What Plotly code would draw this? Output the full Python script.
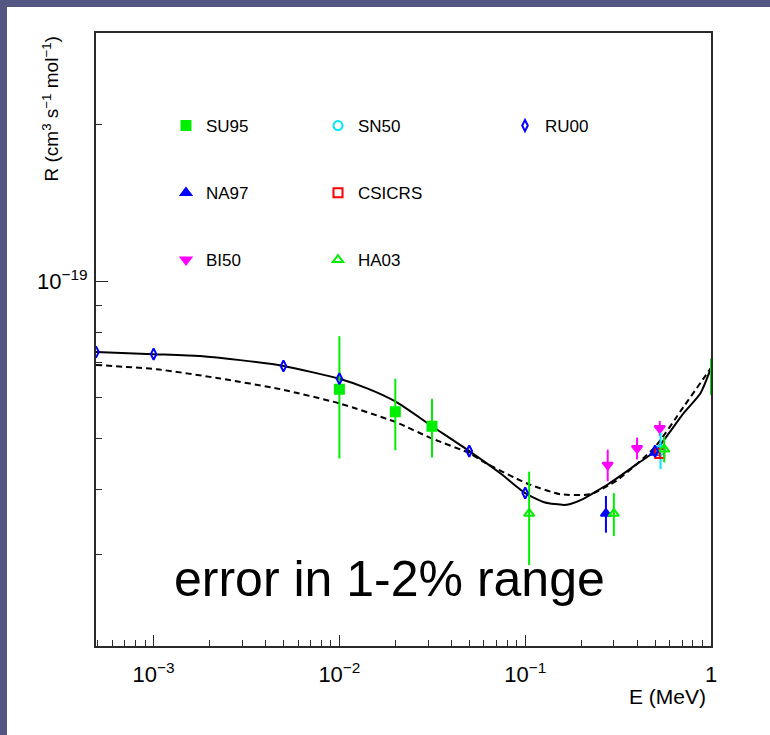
import plotly.graph_objects as go

# ---- data ----
E_solid = [4.9e-4, 1e-3, 1.78e-3, 2.92e-3, 5e-3, 0.01, 0.0141, 0.02, 0.0315, 0.05, 0.0734,
           0.1, 0.128, 0.161, 0.175, 0.2056, 0.2385, 0.2804, 0.325, 0.4, 0.5, 0.714, 0.878, 1.0]
R_solid = [7.33e-20, 7.26e-20, 7.20e-20, 7.07e-20, 6.89e-20, 6.51e-20, 6.24e-20, 5.89e-20, 5.28e-20,
           4.73e-20, 4.29e-20, 3.93e-20, 3.77e-20, 3.73e-20, 3.745e-20, 3.83e-20, 3.95e-20, 4.09e-20,
           4.24e-20, 4.47e-20, 4.73e-20, 5.60e-20, 6.11e-20, 6.83e-20]

E_dash = [4.9e-4, 1.04e-3, 2.28e-3, 4.79e-3, 0.01, 0.02, 0.0315, 0.0506, 0.0597, 0.1023,
          0.1546, 0.2243, 0.3123, 0.5, 0.711, 1.0]
R_dash = [6.92e-20, 6.79e-20, 6.52e-20, 6.22e-20, 5.84e-20, 5.38e-20, 5.00e-20, 4.68e-20, 4.51e-20,
          4.10e-20, 3.91e-20, 3.91e-20, 4.16e-20, 4.82e-20, 5.75e-20, 6.83e-20]

SU95_E = [0.01, 0.02, 0.0315, 1.0]
SU95_R = [6.22e-20, 5.63e-20, 5.28e-20, 6.59e-20]
SU95_err = [1.64e-20, 0.88e-20, 0.68e-20, 0.53e-20]

SN50_E = [0.535]
SN50_R = [4.75e-20]
SN50_err = [0.38e-20]

RU00_E = [4.9e-4, 1e-3, 5e-3, 0.01, 0.05, 0.1, 0.5]
RU00_R = [7.33e-20, 7.26e-20, 6.89e-20, 6.51e-20, 4.73e-20, 3.93e-20, 4.73e-20]

NA97_E = [0.272, 0.5]
NA97_R = [3.59e-20, 4.70e-20]
NA97_err = [0.29e-20, 0.10e-20]

CSICRS_E = [0.53]
CSICRS_R = [4.68e-20]
CSICRS_err = [0.10e-20]

BI50_E = [0.278, 0.4, 0.53]
BI50_R = [4.45e-20, 4.79e-20, 5.23e-20]
BI50_err = [0.31e-20, 0.23e-20, 0.17e-20]

HA03_E = [0.105, 0.3, 0.56]
HA03_R = [3.59e-20, 3.59e-20, 4.77e-20]
HA03_err = [0.73e-20, 0.34e-20, 0.27e-20]

x_major = [1e-3, 1e-2, 1e-1, 1.0]
x_major_text = ["10<sup>\u22123</sup>", "10<sup>\u22122</sup>", "10<sup>\u22121</sup>", "1"]
x_minor = [m * 10.0 ** d for d in (-4, -3, -2, -1) for m in range(2, 10) if m * 10.0 ** d > 4.9e-4]
y_major = [1e-19]
y_major_text = ["10<sup>\u221219</sup>"]
y_minor = [3e-20, 4e-20, 5e-20, 6e-20, 7e-20, 8e-20, 9e-20, 2e-19]

FONT = "Liberation Sans, Arial, sans-serif"

fig = go.Figure()

fig.add_trace(go.Scatter(x=E_solid, y=R_solid, mode="lines",
                         line=dict(color="black", width=2, shape="spline", smoothing=0.6),
                         showlegend=False, hoverinfo="skip"))
fig.add_trace(go.Scatter(x=E_dash, y=R_dash, mode="lines",
                         line=dict(color="black", width=2, dash="6px,4px", shape="spline", smoothing=0.6),
                         showlegend=False, hoverinfo="skip"))


def pts(name, xs, ys, err, symbol, color, legend, size=9, clip=True, showlegend=True, mode="markers"):
    kw = {}
    if err is not None:
        kw["error_y"] = dict(type="data", array=err, color=color, thickness=2, width=0)
    fig.add_trace(go.Scatter(x=xs, y=ys, mode=mode, name=name, legend=legend, legendgroup=name,
                             cliponaxis=clip, showlegend=showlegend,
                             marker=dict(symbol=symbol, color=color, size=size, opacity=1,
                                         line=dict(color=color, width=2)), **kw))


pts("SU95", SU95_E[:3], SU95_R[:3], SU95_err[:3], "square", "#00ee00", "legend")
# last SU95 point sits on the right frame edge: only its error bar is visible
pts("SU95", SU95_E[3:], SU95_R[3:], SU95_err[3:], "square", "#00ee00", "legend",
    clip=False, showlegend=False, mode="lines")
pts("NA97", NA97_E, NA97_R, NA97_err, "triangle-up", "#0000ff", "legend")
pts("BI50", BI50_E, BI50_R, BI50_err, "triangle-down", "#ff00ff", "legend")
pts("SN50", SN50_E, SN50_R, SN50_err, "circle-open", "#00e5ff", "legend2")
pts("CSICRS", CSICRS_E, CSICRS_R, CSICRS_err, "square-open", "#ff0000", "legend2")
pts("HA03", HA03_E, HA03_R, HA03_err, "triangle-up-open", "#00ee00", "legend2")
pts("RU00", RU00_E, RU00_R, None, "diamond-tall-open", "#0000ff", "legend3", size=8)

L, R, T, B = 96, 59, 33, 89
W, H = 770, 735
pw, ph = W - L - R, H - T - B


def px(xp):
    return (xp - L) / pw


def py(yp):
    return 1 - (yp - T) / ph


leg_common = dict(xanchor="left", yanchor="top", bgcolor="rgba(0,0,0,0)", borderwidth=0,
                  font=dict(family=FONT, size=17, color="black"), tracegroupgap=42,
                  orientation="v")

fig.update_layout(
    width=W, height=H,
    margin=dict(l=L, r=R, t=T, b=B),
    paper_bgcolor="#535582",
    plot_bgcolor="white",
    font=dict(family=FONT, color="black"),
    showlegend=True,
    legend=dict(x=px(166), y=py(108), **leg_common),
    legend2=dict(x=px(318), y=py(108), **leg_common),
    legend3=dict(x=px(505), y=py(108), **leg_common),
    xaxis=dict(type="log", range=[-3.31, 0], showgrid=False, zeroline=False,
               showline=True, linecolor="#2a2a2a", linewidth=2, mirror=True, layer="below traces",
               ticks="inside", ticklen=11, tickwidth=1, tickcolor="#2a2a2a",
               tickmode="array", tickvals=x_major, ticktext=x_major_text,
               tickfont=dict(family=FONT, size=22, color="black"), ticklabelstandoff=8,
               minor=dict(ticks="inside", ticklen=6, tickwidth=1, tickcolor="#2a2a2a",
                          tickmode="array", tickvals=x_minor, showgrid=False)),
    yaxis=dict(type="log", range=[-19.699, -18.523], showgrid=False, zeroline=False,
               showline=True, linecolor="#2a2a2a", linewidth=2, mirror=True, layer="below traces",
               ticks="inside", ticklen=12, tickwidth=1, tickcolor="#2a2a2a",
               tickmode="array", tickvals=y_major, ticktext=y_major_text,
               tickfont=dict(family=FONT, size=22, color="black"), ticklabelstandoff=2,
               minor=dict(ticks="inside", ticklen=6, tickwidth=1, tickcolor="#2a2a2a",
                          tickmode="array", tickvals=y_minor, showgrid=False)),
    shapes=[dict(type="rect", xref="paper", yref="paper", layer="below",
                 x0=px(7), x1=px(W + 5), y0=py(H + 5), y1=py(7),
                 fillcolor="white", line=dict(width=0))],
    annotations=[
        dict(text="R (cm<sup>3</sup> s<sup>\u22121</sup> mol<sup>\u22121</sup>)", textangle=-90,
             xref="paper", yref="paper", x=px(50), y=py(35), xanchor="center", yanchor="top",
             showarrow=False, font=dict(family=FONT, size=19, color="black")),
        dict(text="E (MeV)", xref="paper", yref="paper", x=px(708), y=py(696),
             xanchor="right", yanchor="middle", showarrow=False,
             font=dict(family=FONT, size=21, color="black")),
        dict(text="error in 1-2% range", xref="paper", yref="paper", x=px(389), y=py(579),
             xanchor="center", yanchor="middle", showarrow=False,
             font=dict(family=FONT, size=50, color="black")),
    ],
)

fig.write_html("out.html")
